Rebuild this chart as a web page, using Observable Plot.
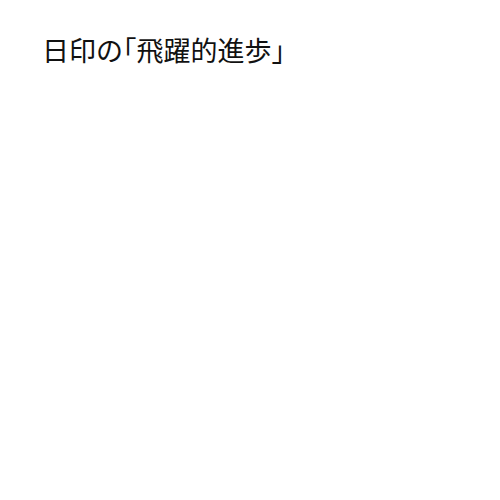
<!DOCTYPE html>
<html>
<head>
<meta charset="utf-8">
<script src="https://cdn.jsdelivr.net/npm/d3@7"></script>
<script src="https://cdn.jsdelivr.net/npm/@observablehq/plot@0.6"></script>
<style>
  html, body { margin: 0; padding: 0; background: #fff; }
  #wrap { width: 500px; height: 500px; position: relative; overflow: hidden; }
  h1 { position: absolute; left: 42px; top: 30px; margin: 0; font-family: "Noto Sans CJK JP", sans-serif; font-weight: 400; font-size: 27px; line-height: 40px; color: #111; white-space: nowrap; }
  h1 .b { font-feature-settings: "halt"; }
  #chart { position: absolute; left: 0; top: 80px; }
</style>
</head>
<body>
<div id="wrap">
  <h1>日印の<span class="b">「</span>飛躍的進歩<span class="b">」</span></h1>
  <div id="chart"></div>
</div>
<script>
const categories = [];
const values = [];
const data = categories.map((c, i) => ({category: c, value: values[i]}));
const chart = Plot.plot({
  width: 500,
  height: 420,
  x: {axis: null},
  y: {axis: null},
  marks: [
    Plot.barY(data, {x: "category", y: "value", fill: "#4a77b4"})
  ]
});
document.getElementById("chart").append(chart);
</script>
</body>
</html>
